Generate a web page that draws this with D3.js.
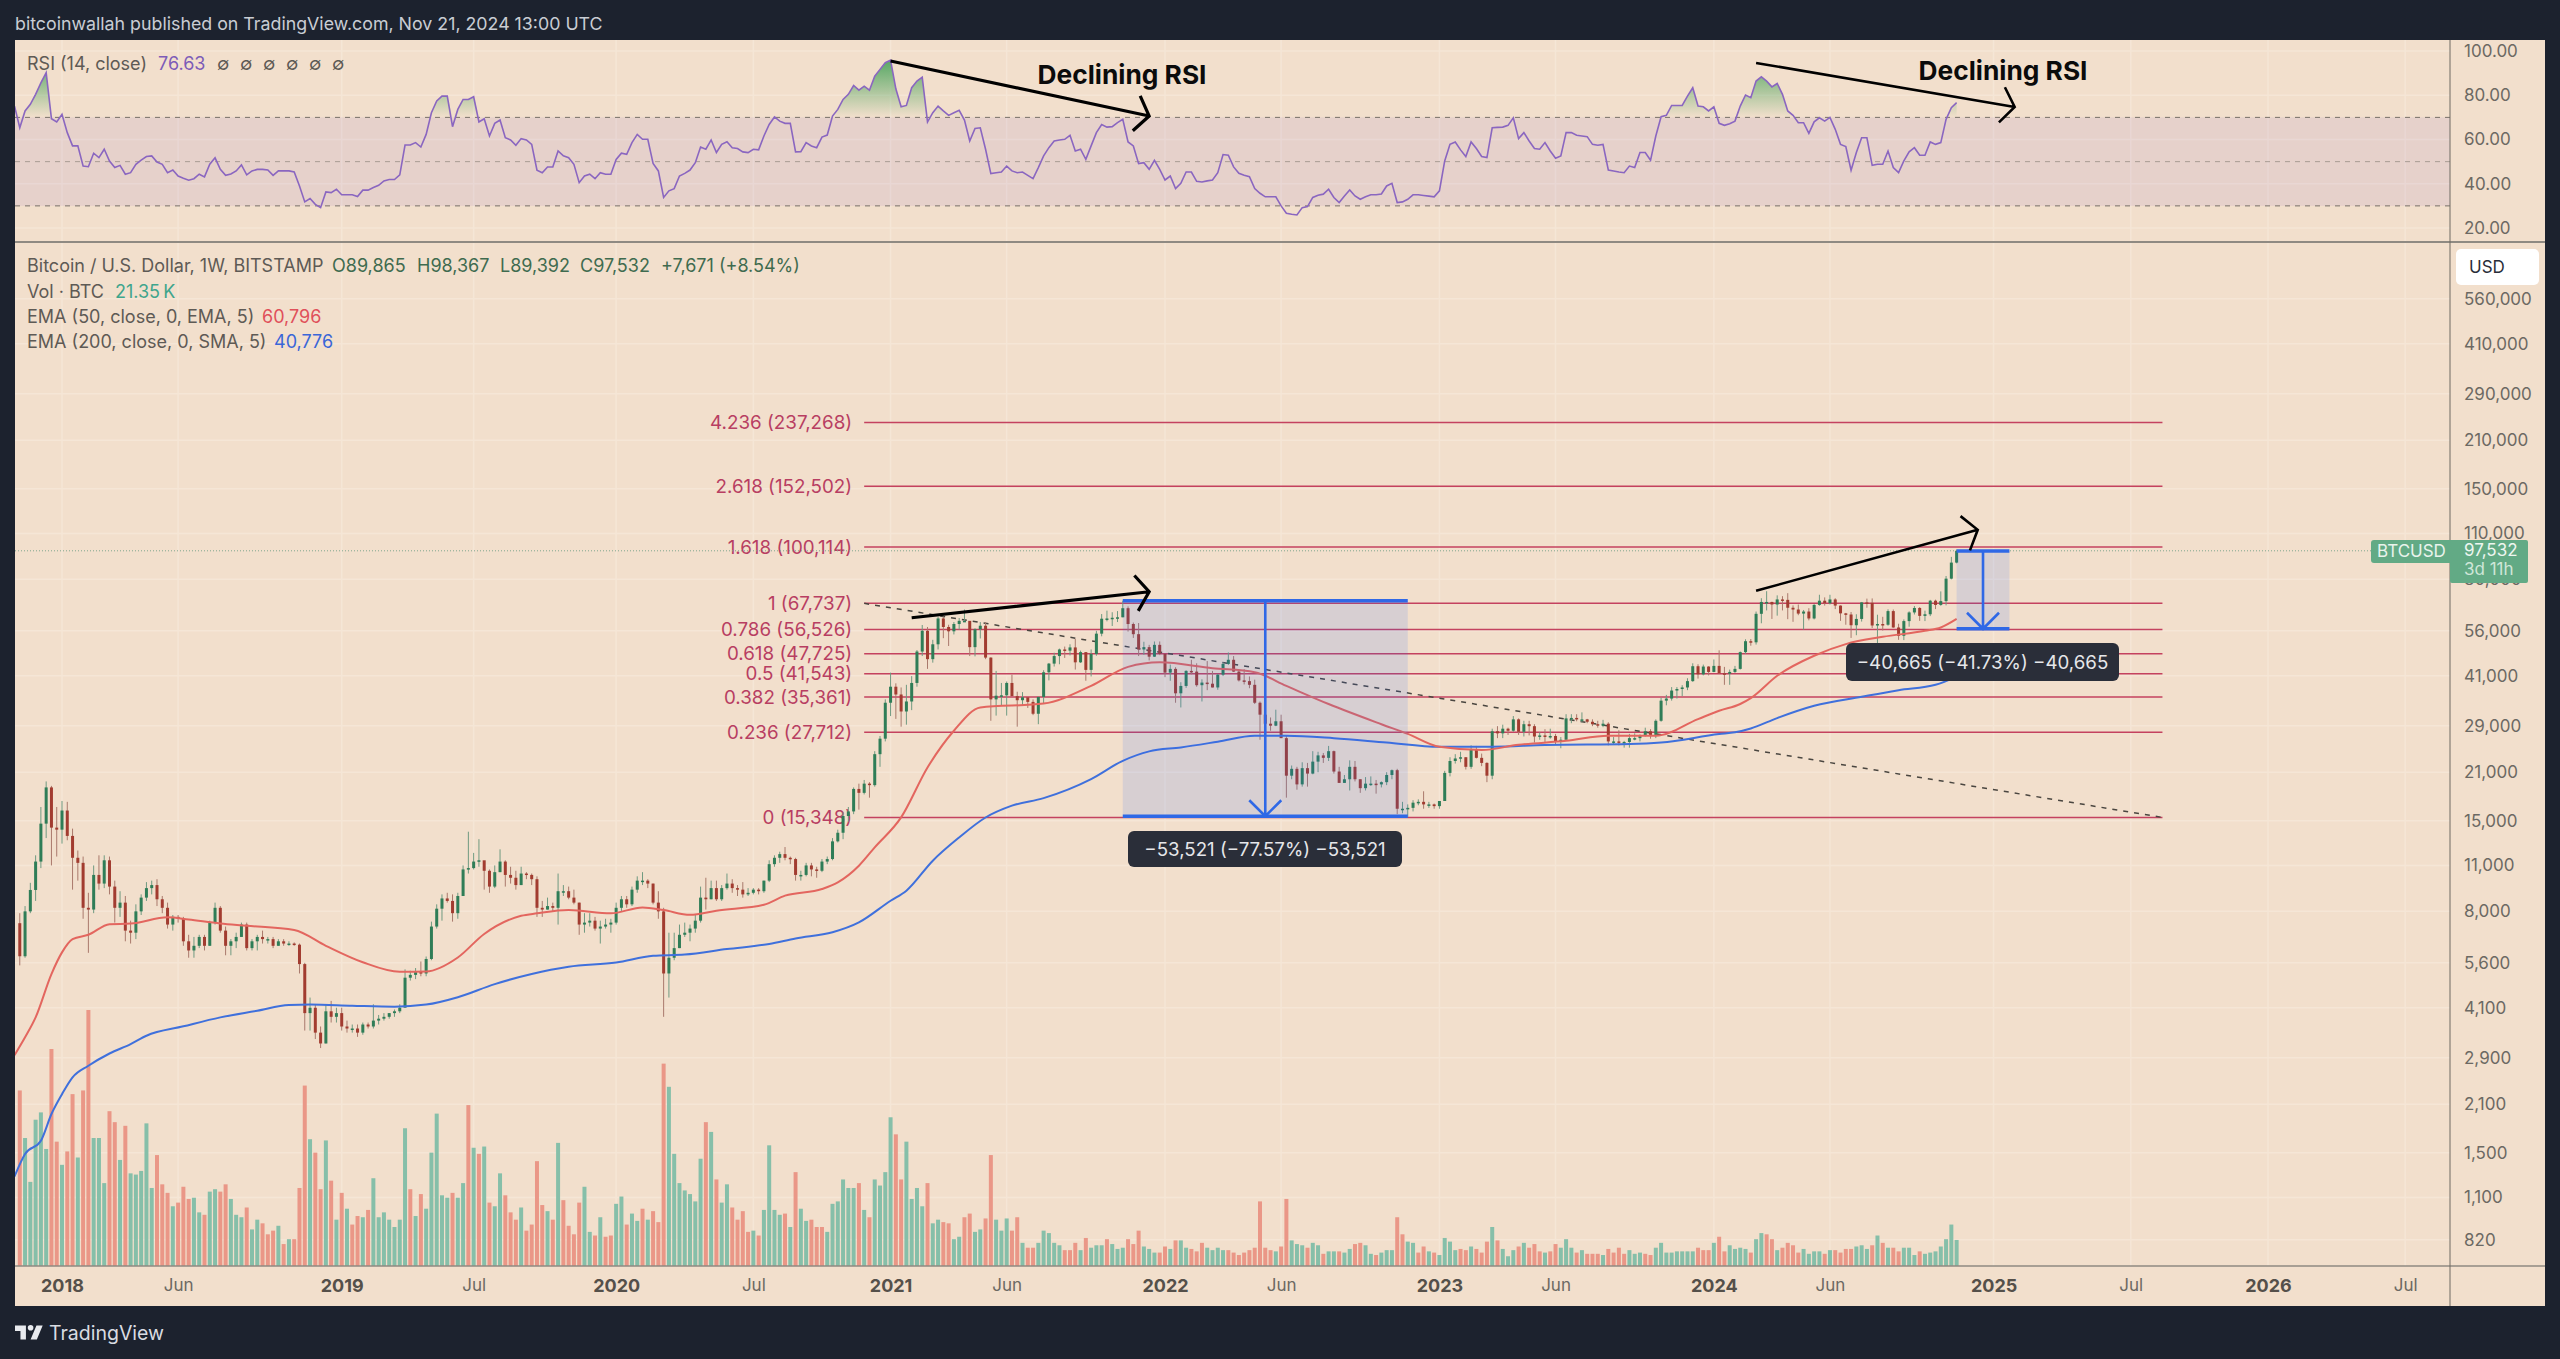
<!DOCTYPE html>
<html>
<head>
<meta charset="utf-8">
<title>BTCUSD weekly</title>
<script src="https://cdnjs.cloudflare.com/ajax/libs/d3/7.8.5/d3.min.js"></script>
<style>
  html, body { margin: 0; padding: 0; background: #1c222e; }
  svg { display: block; font-family: Inter, "Liberation Sans", sans-serif; }
</style>
</head>
<body>
<div id="chart-container"></div>
<script>
// weekly bars, index 0 is the week of 2017-11-06. prices in thousands of USD
const firstOpen = 7.37;
const closes = [
  5.86,8.0,9.28,11.3,14.7,18.9,14.3,14.1,16.1,13.5,
  11.6,11.2,8.2,8.1,10.3,9.7,11.4,9.5,8.2,8.5,
  7.0,6.9,8.0,8.8,9.4,9.6,8.7,8.2,7.3,7.7,
  7.6,6.5,6.1,6.3,6.7,6.3,7.4,8.2,7.0,6.3,
  6.5,6.7,7.3,6.2,6.5,6.7,6.6,6.6,6.3,6.5,
  6.4,6.4,6.35,5.55,3.95,4.1,3.45,3.2,4.0,3.85,
  3.95,3.6,3.55,3.55,3.45,3.65,3.6,3.75,3.8,3.85,
  3.95,4.0,4.1,5.05,5.15,5.25,5.2,5.75,7.2,8.15,
  8.75,8.6,7.9,8.9,10.7,10.8,11.3,11.4,10.6,9.5,
  10.5,11.3,10.3,10.1,9.6,10.4,10.3,10.0,8.2,8.1,
  8.3,8.2,9.2,9.2,8.8,8.5,7.3,7.4,7.5,7.1,
  7.2,7.3,7.4,8.2,8.7,8.4,9.3,9.9,9.9,9.7,
  8.5,8.0,5.2,5.8,6.2,6.8,6.9,7.1,7.5,8.8,
  8.7,9.4,8.7,9.4,9.7,9.4,9.3,9.0,9.1,9.3,
  9.2,9.9,11.1,11.6,11.9,11.6,11.5,10.3,10.3,11.0,
  10.7,10.6,11.3,11.5,13.0,13.8,15.5,16.0,18.7,18.2,
  19.4,19.2,23.8,26.5,34.0,38.0,36.0,32.0,34.3,39.0,
  48.5,56.0,46.0,51.0,61.0,57.5,55.8,58.7,60.0,60.0,
  50.0,56.6,58.0,46.5,34.8,35.7,35.8,39.0,35.6,34.6,
  35.3,34.2,31.5,35.4,42.0,44.6,47.0,49.2,48.8,49.9,
  45.0,48.3,42.7,47.7,54.9,60.9,61.0,61.3,61.5,65.5,
  58.7,54.7,49.2,50.0,46.8,50.8,47.7,41.9,43.0,36.3,
  38.2,42.4,42.2,38.4,39.1,38.8,37.8,41.3,44.5,45.8,
  42.2,39.7,39.5,38.5,34.0,31.3,29.4,29.0,29.9,26.6,
  20.5,21.5,19.3,21.6,20.8,22.6,23.6,23.2,24.3,21.1,
  19.5,20.0,21.8,20.0,18.8,19.4,19.4,19.3,19.6,20.6,
  21.3,16.3,16.3,16.4,17.0,17.1,16.8,16.8,16.6,17.2,
  20.9,22.7,23.1,23.3,21.8,24.6,23.2,22.4,20.5,27.9,
  27.5,28.4,28.0,30.3,27.8,29.3,28.9,26.9,27.1,26.9,
  27.0,25.9,26.3,30.5,30.6,30.3,30.3,29.8,29.3,29.0,
  29.4,26.0,26.0,25.9,25.9,26.6,26.6,27.0,27.9,27.2,
  30.0,34.5,35.0,37.0,37.4,37.8,39.5,43.8,41.4,43.7,
  42.1,43.9,41.7,41.6,42.1,43.0,48.3,52.1,51.7,63.0,
  68.4,68.4,67.2,69.6,69.4,65.7,64.9,63.1,64.0,61.0,
  67.0,69.0,67.8,69.6,66.7,63.2,62.7,58.2,60.8,68.2,
  68.0,58.1,58.7,58.4,64.2,57.3,54.1,59.9,63.6,65.6,
  62.1,62.8,69.0,67.0,68.8,80.4,89.865,97.532
];
const highs = [
  7.9,8.3,9.75,11.8,16.5,19.7,19.1,16.5,17.2,17.1,
  14.2,12.2,11.7,9.1,11.0,11.8,11.8,11.7,9.9,9.2,
  8.9,7.5,8.4,9.0,9.8,9.9,10.0,8.9,8.5,7.8,
  7.8,7.7,6.8,6.7,6.8,6.8,7.5,8.5,8.3,7.2,
  6.6,6.9,7.4,7.4,6.6,6.8,7.0,6.7,6.7,6.6,
  6.6,6.5,6.45,6.4,5.6,4.4,4.2,3.6,4.2,4.3,
  4.1,4.1,3.75,3.65,3.65,3.7,3.7,4.2,3.9,3.95,
  3.95,4.05,4.2,5.35,5.3,5.4,5.65,5.85,7.45,8.4,
  9.0,9.1,9.0,9.1,11.0,13.9,12.0,13.2,11.1,10.7,
  11.0,12.3,11.4,10.9,10.6,10.9,10.5,10.4,10.2,8.6,
  8.8,8.5,10.4,9.6,9.5,9.3,8.5,7.9,7.9,7.7,
  7.5,7.6,7.6,8.5,8.9,8.9,9.5,10.2,10.5,10.0,
  9.7,9.2,8.2,6.9,6.9,7.3,7.4,7.3,7.8,9.5,
  10.1,9.9,9.9,9.6,10.4,10.0,9.6,9.8,9.4,9.4,
  9.4,9.9,11.4,11.8,12.1,12.5,11.7,11.6,10.6,11.2,
  11.2,10.9,11.5,11.7,13.3,14.1,15.9,16.5,18.9,19.4,
  19.9,19.6,24.3,27.0,34.8,41.9,38.9,37.8,38.5,40.9,
  49.0,58.3,57.5,52.6,61.7,61.8,58.4,59.5,61.2,64.9,
  57.1,57.0,59.5,59.5,46.6,42.4,39.0,39.4,41.3,36.7,
  36.6,35.0,34.8,35.4,42.6,44.8,48.1,49.5,50.2,51.0,
  52.9,48.8,48.3,49.2,56.0,62.9,64.4,63.7,64.2,69.0,
  66.3,59.3,59.1,51.9,50.8,52.0,52.0,47.5,44.3,43.5,
  39.2,42.6,45.8,44.7,40.0,45.4,42.4,41.5,45.0,48.2,
  47.0,42.4,42.9,40.8,39.9,34.3,31.0,30.7,32.4,31.3,
  27.0,22.0,21.8,22.5,22.4,24.3,24.2,24.0,25.2,24.4,
  21.8,20.6,22.8,22.7,20.0,20.3,20.4,19.9,19.7,21.0,
  21.4,21.5,17.1,16.8,17.3,17.4,18.4,17.1,16.9,17.2,
  21.2,23.3,23.8,24.2,23.3,25.3,25.2,23.9,22.5,28.4,
  28.9,29.2,28.6,31.0,30.5,30.0,30.0,29.3,27.7,28.3,
  28.4,27.4,26.8,31.4,31.4,31.4,31.8,30.4,30.3,30.0,
  30.2,29.7,26.8,28.1,26.1,27.4,27.5,27.3,28.6,28.3,
  30.3,35.2,35.9,37.9,37.9,38.4,40.3,44.7,44.4,44.3,
  43.8,45.9,48.9,43.6,42.8,43.9,48.5,52.8,52.9,64.0,
  70.2,73.7,68.5,71.6,71.2,72.7,66.8,67.2,64.7,65.5,
  67.4,71.9,70.6,71.9,70.2,66.8,63.4,63.8,62.8,68.4,
  70.0,70.1,62.6,61.7,65.0,64.9,58.8,60.6,64.1,66.5,
  66.0,64.4,69.4,69.5,73.6,81.9,93.5,98.367
];
const lows = [
  5.5,5.8,7.9,8.6,10.8,13.3,11.0,11.7,12.8,13.1,
  9.3,9.9,7.6,6.0,7.9,9.3,9.4,9.0,7.4,7.7,
  6.5,6.4,6.6,7.8,8.6,9.0,8.3,7.9,7.1,7.0,
  7.4,6.3,5.8,5.8,6.2,6.1,6.3,7.3,6.9,5.9,
  5.9,6.2,6.7,6.1,6.1,6.1,6.4,6.4,6.2,6.3,
  6.3,6.3,6.3,5.2,3.5,3.5,3.3,3.1,3.2,3.7,
  3.7,3.5,3.45,3.45,3.35,3.4,3.55,3.55,3.65,3.75,
  3.8,3.85,3.95,4.15,4.95,5.0,5.1,5.1,5.7,7.1,
  7.5,8.5,7.45,7.6,8.9,10.4,10.7,10.9,9.3,9.1,
  9.4,10.5,9.5,9.7,9.3,9.6,10.0,9.6,7.7,7.7,
  8.1,8.0,7.3,8.9,8.7,8.4,6.8,6.9,7.2,7.0,
  6.4,7.1,6.9,7.3,8.0,8.2,8.3,9.1,9.6,9.4,
  8.4,7.6,3.85,4.4,5.7,6.2,6.7,6.5,6.9,7.4,
  8.1,8.7,8.6,8.6,9.3,9.1,8.9,8.8,8.9,9.0,
  9.0,9.1,9.8,10.9,11.2,11.4,11.1,9.9,9.9,10.2,
  10.2,10.1,10.5,11.1,11.4,12.9,13.2,14.9,15.7,16.2,
  18.0,17.6,19.0,21.8,26.0,31.0,30.4,28.8,29.2,32.3,
  38.0,47.0,43.0,44.9,49.2,53.2,50.4,54.6,56.5,59.8,
  47.0,46.9,53.1,46.0,30.0,31.1,33.4,31.1,35.6,28.8,
  33.4,32.8,31.2,29.3,33.9,39.7,43.7,44.4,46.4,47.2,
  42.8,44.8,39.6,40.8,47.1,53.9,59.8,57.9,59.5,61.5,
  55.7,53.3,47.0,47.4,45.6,46.7,47.3,40.6,39.6,34.0,
  32.9,37.7,41.4,38.0,34.3,37.1,37.8,37.2,40.9,44.2,
  42.1,39.4,38.6,37.6,33.7,26.3,28.6,28.0,28.9,26.6,
  17.6,20.0,18.6,19.0,19.0,20.7,21.0,22.4,22.7,20.8,
  19.5,19.5,18.5,19.7,18.2,18.5,19.1,18.1,18.9,19.2,
  20.0,15.7,15.8,15.4,16.0,16.7,16.3,16.4,16.3,16.3,
  17.3,20.4,22.3,22.5,21.4,21.5,23.1,21.9,19.6,20.0,
  26.6,26.6,27.2,27.8,27.2,26.9,27.1,25.8,26.3,25.9,
  26.5,25.4,24.8,26.3,29.5,29.9,29.7,29.5,28.9,28.6,
  28.7,25.3,25.4,25.3,24.9,24.9,26.2,26.0,26.9,26.5,
  26.6,29.8,33.4,34.5,35.0,35.6,37.1,39.3,40.2,41.1,
  41.1,42.0,41.5,38.5,38.5,41.8,42.8,47.7,50.5,50.9,
  59.0,64.5,60.8,62.2,64.5,60.7,59.6,62.4,56.5,60.2,
  60.6,66.6,66.7,67.2,65.1,60.0,58.4,53.3,54.3,59.7,
  65.7,57.1,49.2,56.1,58.0,57.2,52.6,52.5,57.6,62.7,
  60.0,59.9,62.0,65.1,66.6,66.8,80.0,89.392
];
// thousands of BTC
const volumes = [
  144,105,69,120,126,96,178,102,83,94,
  141,89,144,210,105,105,68,127,118,87,
  115,76,75,78,117,64,91,67,60,49,
  52,65,55,56,44,42,61,63,61,67,
  55,42,40,48,30,38,35,26,29,33,
  18,22,22,64,148,104,93,63,103,70,
  38,60,47,34,41,40,46,72,40,44,
  38,32,38,113,63,41,59,47,93,125,
  58,56,60,56,68,132,97,92,98,52,
  49,76,58,44,38,48,29,34,86,50,
  45,38,101,54,33,26,52,65,28,25,
  40,24,25,51,57,34,43,37,47,38,
  45,36,166,147,92,68,62,59,53,88,
  118,110,71,52,67,48,38,45,28,29,
  25,46,99,46,42,43,32,77,47,37,
  38,32,32,28,51,53,71,64,64,68,
  46,40,71,66,77,122,108,71,102,55,
  64,49,68,35,38,36,35,22,24,40,
  43,28,30,39,91,38,29,39,29,40,
  19,15,15,19,29,27,19,17,13,13,
  19,13,23,15,17,17,22,18,14,15,
  22,18,29,16,14,11,11,16,14,21,
  21,15,14,12,19,15,13,15,13,13,
  11,9,11,13,15,53,15,13,12,16,
  55,21,18,17,15,19,17,10,12,12,
  12,11,14,18,19,17,10,9,11,13,
  13,40,26,20,19,11,16,12,11,9,
  23,20,13,14,13,16,14,11,20,32,
  21,14,8,13,16,19,15,18,12,11,
  12,18,15,22,15,11,13,10,10,10,
  9,14,11,15,10,13,10,11,10,9,
  15,19,11,11,12,12,12,12,15,13,
  13,19,24,12,17,14,15,14,11,22,
  27,26,22,13,15,19,17,11,14,10,
  12,12,10,13,13,11,14,14,16,17,
  14,17,25,19,15,15,12,15,15,9,
  12,10,11,12,16,22,34,21.35
];
// g or r for each volume bar, ten weeks a row
const volumeColours = [
  "rgggggrrgr","rgrrgggrrg","rgggggrrrg","rrrggrggrr","gggrggrrrg",
  "rgrrrgrrgr","grgrrgrggg","ggggrgrggg","ggrggrgrgr","ggrrrgrrrr",
  "grgrrrrggr","grrggrggrg","rrrggggggg","rgrggrrrrg","rggggrgrgg",
  "rrrggggggr","grggggrrgg","ggrggrrggr","rggrrgggrr","grrgggggrr",
  "rgrgggrggg","rrrgggrrgr","ggrrrggggr","rrrrrrrrgr","rgggrggrgg",
  "rggrrggrgg","grrggrrgrg","gggrrgrrrg","rgggrgrrrg","rrgggrgrrr",
  "grrrrgggrr","ggggggggrr","rgrrggggrg","grrgrrrrgg","ggrgrrrrgg",
  "grgrgrrggg","rggggggg"
].join("").split("");
const rsiBeforeFirstWeek = 75.1;
const rsiValues = [
  65.3,72.9,75.9,80.4,85.6,90.2,69.4,67.9,71.4,63.1,
  57.1,57.1,48.0,47.7,53.8,51.8,55.6,50.3,47.3,48.3,
  44.3,45.0,48.8,50.7,52.3,52.6,49.8,48.8,45.0,46.2,
  43.5,42.5,41.6,42.3,44.3,43.1,48.8,51.7,46.5,43.8,
  44.4,45.8,48.5,44.0,45.8,46.5,46.5,46.2,43.8,45.8,
  45.8,45.8,45.3,39.0,31.8,33.3,30.7,29.2,36.3,36.0,
  37.5,35.0,35.0,35.0,34.2,37.1,37.1,38.3,39.3,41.3,
  41.9,41.9,44.0,57.5,57.5,58.6,56.6,62.3,72.1,77.4,
  79.6,79.6,65.8,73.6,78.1,78.1,79.3,67.9,69.4,61.6,
  67.3,68.8,60.8,59.8,57.4,60.4,59.8,57.8,46.1,45.0,
  47.6,47.6,54.8,52.6,51.8,48.8,40.5,43.5,44.3,42.3,
  45.0,44.3,44.3,51.0,53.8,53.3,58.6,62.3,60.1,60.1,
  49.2,45.8,33.8,36.8,37.8,43.5,44.7,46.2,49.5,56.6,
  55.6,59.8,54.1,57.8,59.0,56.3,55.9,54.4,54.1,55.6,
  55.3,61.6,66.8,70.2,68.3,67.3,67.3,54.4,54.5,58.6,
  57.1,56.3,61.1,62.0,70.6,73.6,78.1,80.4,84.4,82.3,
  84.1,82.3,88.6,91.7,94.7,95.9,82.9,74.8,75.4,83.4,
  86.4,88.2,67.9,72.1,75.1,72.9,70.9,72.1,73.2,68.8,
  59.3,65.0,65.3,55.6,44.6,45.0,45.3,48.0,45.8,45.0,
  45.3,43.8,42.3,47.3,52.6,56.3,59.3,59.8,60.1,61.9,
  54.8,55.6,51.0,57.1,63.1,66.8,65.6,65.8,67.6,69.1,
  58.9,57.1,49.1,49.5,46.5,50.6,46.5,41.7,43.5,37.8,
  40.2,45.3,45.3,41.1,40.8,41.3,41.7,45.0,53.2,52.9,
  47.6,44.7,43.8,43.2,37.8,35.7,34.1,34.1,34.1,30.0,
  26.7,26.2,25.9,29.2,29.7,33.8,34.8,35.3,37.5,33.8,
  31.5,34.5,37.2,34.5,33.0,34.1,35.0,35.0,35.4,39.0,
  40.2,31.5,31.8,33.0,35.0,35.0,34.7,34.4,34.1,36.8,
  50.3,57.8,58.9,55.3,52.3,58.9,55.9,52.3,51.8,65.3,
  65.5,65.6,66.4,69.8,60.4,63.1,59.3,55.9,55.6,58.6,
  54.8,51.5,52.6,63.1,63.1,61.9,61.6,61.3,57.8,57.4,
  57.8,46.2,45.8,45.3,45.0,48.0,47.3,54.1,54.1,50.6,
  61.6,70.3,70.9,75.4,75.4,75.4,79.6,83.4,75.1,74.8,
  72.9,74.8,67.3,66.4,67.1,68.3,75.1,80.1,78.9,86.4,
  88.3,86.4,83.8,85.3,80.4,72.9,70.9,67.6,67.6,62.8,
  68.0,69.8,68.3,70.0,64.6,57.8,56.8,46.1,54.1,60.8,
  60.8,48.3,48.8,48.8,54.8,47.3,45.0,50.3,54.4,56.3,
  52.9,52.9,58.9,57.8,58.6,69.1,74.4,76.63
];
const ema50Weeks = [-1,1,3,6,8,10,13,17,21,28,32,38,43,52,58,65,72,77,83,88,95,98,104,112,118,122,127,132,141,145,152,155,159,162,167,172,177,182,194,203,210,216,226,234,240,248,258,263,269,277,284,293,301,310,318,322,326,328,333,340,346,353,361,364,367];
const ema50Values = [2950,3340,3835,5180,6020,6600,6800,7320,7350,7680,7560,7350,7240,7030,6300,5620,5260,5270,5810,6840,7760,7890,8070,7890,8220,8070,7810,8040,8370,8920,9340,9780,10980,12470,15350,21700,28000,32900,33800,38200,43600,45000,43200,42000,38200,33700,29300,27400,25050,24500,25400,26100,27050,27050,30350,32150,33700,35100,41000,47100,51050,53700,56000,57300,60796];
const ema200Weeks = [-1,1,4,6,8,10,13,17,21,24,31,38,45,51,55,63,71,77,83,90,97,104,113,120,126,134,142,147,154,159,165,168,173,178,183,188,194,203,209,214,220,227,234,240,249,259,269,279,289,305,311,322,325,328,333,340,349,356,363,367];
const ema200Values = [1272,1487,1630,1962,2252,2530,2742,2985,3187,3377,3604,3835,4015,4178,4190,4156,4130,4190,4410,4830,5180,5445,5610,5880,5930,6160,6380,6630,6920,7410,8610,9235,11370,13360,15340,16650,17550,20020,22730,24270,24940,25950,27050,27050,26600,25800,25050,25050,25350,25520,25800,27360,27700,28450,30570,33280,35440,37100,38500,40776];
// fibonacci retracement
const fibRatios = ["4.236","2.618","1.618","1","0.786","0.618","0.5","0.382","0.236","0"];
const fibPrices = [237268,152502,100114,67737,56526,47725,41543,35361,27712,15348];
const fibWeeks = [160,406];
const fibTrend = [[160,67737],[406,15348]];
// price range tools
const rangeWeeks = [[209,263],[367,377]];
const rangeTops = [68997,97449];
const rangeBottoms = [15476,56784];
const rangeLabels = ["\u221253,521 (\u221277.57%) \u221253,521","\u221240,665 (\u221241.73%) \u221240,665"];
// hand drawn arrows
const rsiArrows = [[[165,95.5],[214,70.6]],[[329,94.6],[378,74.7]]];
const priceArrows = [[[169,61300],[214,73400]],[[329,73900],[371,112800]]];
// axes
const priceTicks = [560000,410000,290000,210000,150000,110000,80000,56000,41000,29000,21000,15000,11000,8000,5600,4100,2900,2100,1500,1100,820];
const rsiTicks = [100,80,60,40,20];
const timeTicks = [
  ["2018-01-01","2018",true],["2018-06-04","Jun",false],["2019-01-07","2019",true],["2019-07-01","Jul",false],
  ["2020-01-06","2020",true],["2020-07-06","Jul",false],["2021-01-04","2021",true],["2021-06-07","Jun",false],
  ["2022-01-03","2022",true],["2022-06-06","Jun",false],["2023-01-02","2023",true],["2023-06-05","Jun",false],
  ["2024-01-01","2024",true],["2024-06-03","Jun",false],["2025-01-06","2025",true],["2025-07-07","Jul",false],
  ["2026-01-05","2026",true],["2026-07-06","Jul",false]
];

const width = 2560, height = 1359;
const pane = { left: 15, right: 2545, top: 40, split: 242, bottom: 1266, end: 1306, axis: 2450 };
const c = {
  page: "#1c222e", panel: "#f2dfcc", grid: "#f5e6d6", axisLine: "#6f6a62", split: "#8f8a82",
  text: "#5e5a55", axisText: "#6c6963", green: "#2f7d57", red: "#a23c30",
  greenWick: "#6f9a80", redWick: "#a9796c", volGreen: "#86bfa9", volRed: "#ea9787",
  rsi: "#8a66c0", ema50: "#e3665f", ema200: "#3f70dc", fib: "#c4425f", fibText: "#b83e62",
  blue: "#2f68e6", tag: "#62aa85", tooltip: "#2a2e39"
};

const firstWeek = new Date(Date.UTC(2017, 10, 6));
const weekDate = i => d3.utcMonday.offset(firstWeek, i);
const x = d3.scaleUtc()
  .domain([new Date(Date.UTC(2018, 0, 1)), new Date(Date.UTC(2026, 0, 5))])
  .range([62, 2268]);
const xw = i => x(weekDate(i));
const y = d3.scaleLog().domain([820, 560000]).range([1239.8, 298.8]);
const yRsi = d3.scaleLinear().domain([20, 100]).range([228, 51]);
const yVol = d3.scaleLinear().domain([0, 210]).range([pane.bottom, pane.bottom - 256]);

const svg = d3.select("#chart-container").append("svg")
  .attr("width", width).attr("height", height);
const defs = svg.append("defs");

defs.append("clipPath").attr("id", "plot-clip").append("rect")
  .attr("x", pane.left).attr("y", pane.top)
  .attr("width", pane.axis - pane.left).attr("height", pane.bottom - pane.top);

const greenFade = defs.append("linearGradient").attr("id", "rsi-green")
  .attr("gradientUnits", "userSpaceOnUse")
  .attr("x1", 0).attr("x2", 0).attr("y1", yRsi(96)).attr("y2", yRsi(70));
greenFade.append("stop").attr("offset", 0).attr("stop-color", "#4fa55f").attr("stop-opacity", 0.95);
greenFade.append("stop").attr("offset", 1).attr("stop-color", "#4fa55f").attr("stop-opacity", 0);

// background
svg.append("rect").attr("width", width).attr("height", height).attr("fill", c.page);
svg.append("rect")
  .attr("x", pane.left).attr("y", pane.top)
  .attr("width", pane.right - pane.left).attr("height", pane.end - pane.top)
  .attr("fill", c.panel);

const plot = svg.append("g").attr("clip-path", "url(#plot-clip)");

// grid
plot.append("g").selectAll("line")
  .data(timeTicks)
  .join("line")
  .attr("x1", d => x(new Date(d[0]))).attr("x2", d => x(new Date(d[0])))
  .attr("y1", pane.top).attr("y2", pane.bottom)
  .attr("stroke", c.grid).attr("stroke-width", 1.5);
plot.append("g").selectAll("line")
  .data(priceTicks)
  .join("line")
  .attr("x1", pane.left).attr("x2", pane.axis)
  .attr("y1", d => y(d)).attr("y2", d => y(d))
  .attr("stroke", c.grid).attr("stroke-width", 1.5);
plot.append("g").selectAll("line")
  .data(rsiTicks)
  .join("line")
  .attr("x1", pane.left).attr("x2", pane.axis)
  .attr("y1", d => yRsi(d)).attr("y2", d => yRsi(d))
  .attr("stroke", c.grid).attr("stroke-width", 1.5);

// RSI pane
plot.append("rect")
  .attr("x", pane.left).attr("width", pane.axis - pane.left)
  .attr("y", yRsi(70)).attr("height", yRsi(30) - yRsi(70))
  .attr("fill", "#7e57c2").attr("fill-opacity", 0.1);
plot.append("g").selectAll("line")
  .data([70, 50, 30])
  .join("line")
  .attr("x1", pane.left).attr("x2", pane.axis)
  .attr("y1", d => yRsi(d)).attr("y2", d => yRsi(d))
  .attr("stroke", "#787168")
  .attr("stroke-opacity", d => d === 50 ? 0.55 : 1)
  .attr("stroke-dasharray", "5,5");

const rsiPoints = [[-1, rsiBeforeFirstWeek], ...rsiValues.map((v, i) => [i, v])];
const rsiArea = d3.area()
  .x(d => xw(d[0]))
  .y0(yRsi(70))
  .y1(d => yRsi(Math.max(d[1], 70)));
plot.append("path")
  .attr("d", rsiArea(rsiPoints))
  .attr("fill", "url(#rsi-green)");
const rsiLine = d3.line().x(d => xw(d[0])).y(d => yRsi(d[1]));
plot.append("path")
  .attr("d", rsiLine(rsiPoints))
  .attr("fill", "none").attr("stroke", c.rsi).attr("stroke-width", 1.6);

// volume
plot.append("g").selectAll("rect")
  .data(volumes)
  .join("rect")
  .attr("x", (d, i) => xw(i) - 2)
  .attr("width", 4)
  .attr("y", d => yVol(d))
  .attr("height", d => yVol(0) - yVol(d))
  .attr("fill", (d, i) => volumeColours[i] === "g" ? c.volGreen : c.volRed);

// fib levels
plot.append("g").selectAll("line")
  .data(fibPrices)
  .join("line")
  .attr("x1", xw(fibWeeks[0])).attr("x2", xw(fibWeeks[1]))
  .attr("y1", d => y(d)).attr("y2", d => y(d))
  .attr("stroke", c.fib).attr("stroke-width", 1.5);
plot.append("g").selectAll("text")
  .data(fibPrices)
  .join("text")
  .attr("x", xw(fibWeeks[0]) - 12)
  .attr("y", d => y(d))
  .attr("dy", "0.35em")
  .attr("text-anchor", "end")
  .attr("font-size", 18.8)
  .attr("fill", c.fibText)
  .text((d, i) => `${fibRatios[i]} (${d3.format(",")(d)})`);
plot.append("path")
  .attr("d", d3.line().x(d => xw(d[0])).y(d => y(d[1]))(fibTrend))
  .attr("fill", "none").attr("stroke", "#4a4640").attr("stroke-width", 1.5)
  .attr("stroke-dasharray", "5,6");

// last price line
plot.append("line")
  .attr("x1", pane.left).attr("x2", pane.axis)
  .attr("y1", y(97532)).attr("y2", y(97532))
  .attr("stroke", "#7fa68d").attr("stroke-dasharray", "1,2");

// candles
const candles = d3.range(closes.length).map(i => ({
  i,
  open: (i ? closes[i - 1] : firstOpen) * 1000,
  close: closes[i] * 1000,
  high: highs[i] * 1000,
  low: lows[i] * 1000
}));
const candle = plot.append("g").selectAll("g")
  .data(candles)
  .join("g")
  .attr("transform", d => `translate(${xw(d.i)},0)`);
candle.append("line")
  .attr("y1", d => y(d.high)).attr("y2", d => y(d.low))
  .attr("stroke", d => d.close >= d.open ? c.greenWick : c.redWick)
  .attr("stroke-width", 1);
candle.append("rect")
  .attr("x", -1.5).attr("width", 3)
  .attr("y", d => y(Math.max(d.open, d.close)))
  .attr("height", d => Math.max(1.5, Math.abs(y(d.open) - y(d.close))))
  .attr("fill", d => d.close >= d.open ? c.green : c.red);

// moving averages
const maLine = d3.line()
  .x(d => xw(d[0])).y(d => y(d[1]))
  .curve(d3.curveMonotoneX);
plot.append("path")
  .attr("d", maLine(d3.zip(ema200Weeks, ema200Values)))
  .attr("fill", "none").attr("stroke", c.ema200).attr("stroke-width", 2);
plot.append("path")
  .attr("d", maLine(d3.zip(ema50Weeks, ema50Values)))
  .attr("fill", "none").attr("stroke", c.ema50).attr("stroke-width", 2);

// price ranges
rangeWeeks.forEach((w, k) => {
  const x0 = xw(w[0]), x1 = xw(w[1]);
  const top = y(rangeTops[k]), bottom = y(rangeBottoms[k]);
  const mid = (x0 + x1) / 2;
  const g = plot.append("g");
  g.append("rect")
    .attr("x", x0).attr("y", top)
    .attr("width", x1 - x0).attr("height", bottom - top)
    .attr("fill", "#2962ff").attr("fill-opacity", 0.13);
  g.selectAll("line.edge")
    .data([top, bottom])
    .join("line")
    .attr("class", "edge")
    .attr("x1", x0).attr("x2", x1)
    .attr("y1", d => d).attr("y2", d => d)
    .attr("stroke", c.blue).attr("stroke-width", 3.5);
  const p = d3.path();
  p.moveTo(mid, top);
  p.lineTo(mid, bottom);
  p.moveTo(mid - 16, bottom - 16);
  p.lineTo(mid, bottom);
  p.lineTo(mid + 16, bottom - 16);
  g.append("path")
    .attr("d", p.toString())
    .attr("fill", "none").attr("stroke", c.blue).attr("stroke-width", 2.6);
});

// arrows
function arrow(from, to, size, weight) {
  const a = Math.atan2(to[1] - from[1], to[0] - from[0]);
  const p = d3.path();
  p.moveTo(from[0], from[1]);
  p.lineTo(to[0], to[1]);
  p.moveTo(to[0] + size * Math.cos(a + 2.2), to[1] + size * Math.sin(a + 2.2));
  p.lineTo(to[0], to[1]);
  p.lineTo(to[0] + size * Math.cos(a - 2.2), to[1] + size * Math.sin(a - 2.2));
  plot.append("path")
    .attr("d", p.toString())
    .attr("fill", "none").attr("stroke", "#000").attr("stroke-width", weight);
}
arrow([xw(rsiArrows[0][0][0]), yRsi(rsiArrows[0][0][1])], [xw(rsiArrows[0][1][0]), yRsi(rsiArrows[0][1][1])], 22, 3.2);
arrow([xw(rsiArrows[1][0][0]), yRsi(rsiArrows[1][0][1])], [xw(rsiArrows[1][1][0]), yRsi(rsiArrows[1][1][1])], 22, 2.6);
arrow([xw(priceArrows[0][0][0]), y(priceArrows[0][0][1])], [xw(priceArrows[0][1][0]), y(priceArrows[0][1][1])], 22, 3.2);
arrow([xw(priceArrows[1][0][0]), y(priceArrows[1][0][1])], [xw(priceArrows[1][1][0]), y(priceArrows[1][1][1])], 22, 2.6);

svg.selectAll("text.note")
  .data([[1122, 75], [2003, 71]])
  .join("text")
  .attr("class", "note")
  .attr("x", d => d[0]).attr("y", d => d[1])
  .attr("dy", "0.36em")
  .attr("text-anchor", "middle")
  .attr("font-size", 26.3)
  .attr("font-weight", 700)
  .attr("fill", "#0b0b0b")
  .text("Declining RSI");

// range tooltips sit above everything else in the plot
[[1128, 831, 274, 36], [1846, 643, 273, 38]].forEach((b, k) => {
  plot.append("rect")
    .attr("x", b[0]).attr("y", b[1]).attr("width", b[2]).attr("height", b[3])
    .attr("rx", 6).attr("fill", c.tooltip);
  plot.append("text")
    .attr("x", b[0] + b[2] / 2).attr("y", b[1] + b[3] / 2)
    .attr("dy", "0.36em")
    .attr("text-anchor", "middle")
    .attr("font-size", 18.7)
    .attr("fill", "#e6e7ea")
    .text(rangeLabels[k]);
});

// pane borders
svg.append("line").attr("x1", pane.left).attr("x2", pane.right)
  .attr("y1", pane.split).attr("y2", pane.split)
  .attr("stroke", c.split).attr("stroke-width", 2);
svg.append("line").attr("x1", pane.left).attr("x2", pane.right)
  .attr("y1", pane.bottom).attr("y2", pane.bottom)
  .attr("stroke", c.split).attr("stroke-width", 1.5);
svg.append("line").attr("x1", pane.axis).attr("x2", pane.axis)
  .attr("y1", pane.top).attr("y2", pane.end)
  .attr("stroke", c.axisLine);

// axes
const priceAxis = svg.append("g")
  .attr("transform", `translate(${pane.axis},0)`)
  .call(d3.axisRight(y).tickValues(priceTicks).tickFormat(d3.format(",")).tickSize(0).tickPadding(14))
  .call(g => g.select(".domain").remove());
const rsiAxis = svg.append("g")
  .attr("transform", `translate(${pane.axis},0)`)
  .call(d3.axisRight(yRsi).tickValues(rsiTicks).tickFormat(d3.format(".2f")).tickSize(0).tickPadding(14))
  .call(g => g.select(".domain").remove());
[priceAxis, rsiAxis].forEach(a => a.selectAll("text")
  .attr("font-family", "Inter").attr("font-size", 17).attr("fill", c.axisText));

const timeAxis = svg.append("g")
  .attr("transform", `translate(0,${pane.bottom})`)
  .call(d3.axisBottom(x)
    .tickValues(timeTicks.map(d => new Date(d[0])))
    .tickFormat((d, i) => timeTicks[i][1])
    .tickSize(0).tickPadding(13))
  .call(g => g.select(".domain").remove());
timeAxis.selectAll("text")
  .attr("font-family", "Inter")
  .attr("font-size", (d, i) => timeTicks[i][2] ? 18 : 17)
  .attr("font-weight", (d, i) => timeTicks[i][2] ? 700 : 400)
  .attr("fill", (d, i) => timeTicks[i][2] ? "#55504a" : c.axisText);

// USD button and last price tag
svg.append("rect").attr("x", 2456).attr("y", 249).attr("width", 83).attr("height", 36)
  .attr("rx", 5).attr("fill", "#fff");
svg.append("text").attr("x", 2469).attr("y", 267).attr("dy", "0.36em")
  .attr("font-size", 17).attr("fill", "#2a2e39").text("USD");
svg.append("rect").attr("x", 2371).attr("y", 540).attr("width", 90).attr("height", 23)
  .attr("rx", 3).attr("fill", c.tag);
svg.append("rect").attr("x", 2450).attr("y", 540).attr("width", 78).attr("height", 43)
  .attr("rx", 2).attr("fill", c.tag);
svg.append("text").attr("x", 2377).attr("y", 551).attr("dy", "0.36em")
  .attr("font-size", 17).attr("fill", "#e9f3ec").text("BTCUSD");
svg.append("text").attr("x", 2464).attr("y", 550).attr("dy", "0.36em")
  .attr("font-size", 17).attr("fill", "#eef6f0").text("97,532");
svg.append("text").attr("x", 2464).attr("y", 569).attr("dy", "0.36em")
  .attr("font-size", 17).attr("fill", "#cfe6d8").text("3d 11h");

// legends
function label(px, py, str, colour) {
  return svg.append("text").attr("x", px).attr("y", py).attr("dy", "0.36em")
    .attr("font-size", 18).attr("fill", colour).text(str);
}
const upText = "#3f6b4f";
label(27, 64, "RSI (14, close)", c.text);
label(158, 64, "76.63", "#7d5cb8");
d3.range(6).forEach(k => label(217 + k * 23, 64, "\u2205", c.text));
label(27, 266, "Bitcoin / U.S. Dollar, 1W, BITSTAMP", c.text);
label(332, 266, "O89,865", upText);
label(417, 266, "H98,367", upText);
label(500, 266, "L89,392", upText);
label(580, 266, "C97,532", upText);
label(661, 266, "+7,671 (+8.54%)", upText);
label(27, 292, "Vol \u00b7 BTC", c.text);
label(115, 292, "21.35\u2009K", "#3fa58c");
label(27, 317, "EMA (50, close, 0, EMA, 5)", c.text);
label(262, 317, "60,796", "#e0505a");
label(27, 342, "EMA (200, close, 0, SMA, 5)", c.text);
label(274, 342, "40,776", "#3a66d8");

// header and footer
svg.append("text").attr("x", 15).attr("y", 24).attr("dy", "0.36em")
  .attr("font-size", 17.8).attr("fill", "#c9cdd4")
  .text("bitcoinwallah published on TradingView.com, Nov 21, 2024 13:00 UTC");
svg.append("g")
  .attr("transform", "translate(15,1320) scale(0.78)")
  .call(g => {
    g.append("path").attr("d", "M14 25H7V14H0V7h14v18zM28 25h-8l7.5-18h8L28 25z").attr("fill", "#e8eaee");
    g.append("circle").attr("cx", 20).attr("cy", 10).attr("r", 3.6).attr("fill", "#e8eaee");
  });
svg.append("text").attr("x", 49).attr("y", 1333).attr("dy", "0.36em")
  .attr("font-size", 19.5).attr("fill", "#d9dce2").text("TradingView");
</script>
</body>
</html>
